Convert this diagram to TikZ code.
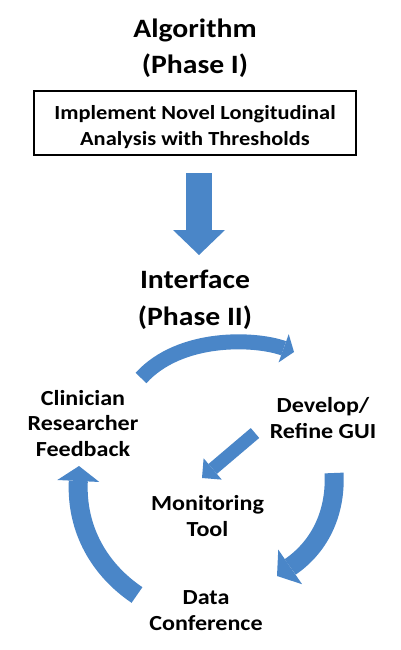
\documentclass[tikz,border=0pt]{standalone}
\usepackage{fontspec}
\setmainfont[FakeStretch=1.12]{Carlito}
\usetikzlibrary{arrows.meta}
\definecolor{arrowblue}{RGB}{74,134,200}
\begin{document}
\begin{tikzpicture}[x=1pt,y=-1pt,
  lbl/.style={font=\bfseries\fontsize{21.5}{25.5}\selectfont, align=center, anchor=base, inner sep=0pt},
  boxtext/.style={font=\bfseries\fontsize{20}{26.5}\selectfont, align=center, anchor=base, inner sep=0pt},
  ttl/.style={font=\bfseries\fontsize{26.5}{36.5}\selectfont, align=center, anchor=base, inner sep=0pt},
  flow/.style={draw=arrowblue, line width=#1},
  tip/.style n args={2}{-{Triangle[width=#1,length=#2,line width=0pt]}}
 ]
\useasboundingbox[fill=white] (0,0) rectangle (400,650);
% Phase I (base anchor = baseline of last line)
\node[ttl] (alg) at (195,74) {Algorithm\\(Phase I)};
\node[draw, line width=1.6pt, minimum width=322pt, minimum height=64pt, inner sep=0pt] (box) at (195,123) {};
\node[boxtext] (impl) at (195,145.7) {Implement Novel Longitudinal\\Analysis with Thresholds};
% big down arrow
\coordinate (d1) at (199,173);
\coordinate (d2) at (199,255);
\draw[flow=26pt, tip={52pt}{25pt}] (d1) -- (d2);
% Phase II
\node[ttl] (intf) at (195,325) {Interface\\(Phase II)};
% cycle labels
\node[lbl] (clin) at (83,456) {Clinician\\Researcher\\Feedback};
\node[lbl] (dev) at (323,438) {Develop/\\Refine GUI};
\node[lbl] (mon) at (207.5,536) {Monitoring\\Tool};
\node[lbl] (data) at (206,630) {Data\\Conference};
% cycle arrows
\coordinate (t1) at (141,378);
\coordinate (t2) at (294,352);
\draw[flow=15pt, tip={30pt}{11pt}] (t1) .. controls (180,335) and (255,338) .. (t2);
\coordinate (g1) at (255,433);
\coordinate (g2) at (202,478);
\draw[flow=13pt, tip={28pt}{14pt}] (g1) -- (g2);
\coordinate (r1) at (334,473);
\coordinate (r2) at (277,576);
\draw[flow=19pt, tip={42pt}{16pt}] (r1) .. controls (336,510) and (322,545) .. (r2);
\coordinate (l1) at (137,595);
\coordinate (l2) at (79,466);
\draw[flow=19pt, tip={42pt}{15pt}] (l1) .. controls (100,570) and (76,530) .. (l2);
\end{tikzpicture}
\end{document}
